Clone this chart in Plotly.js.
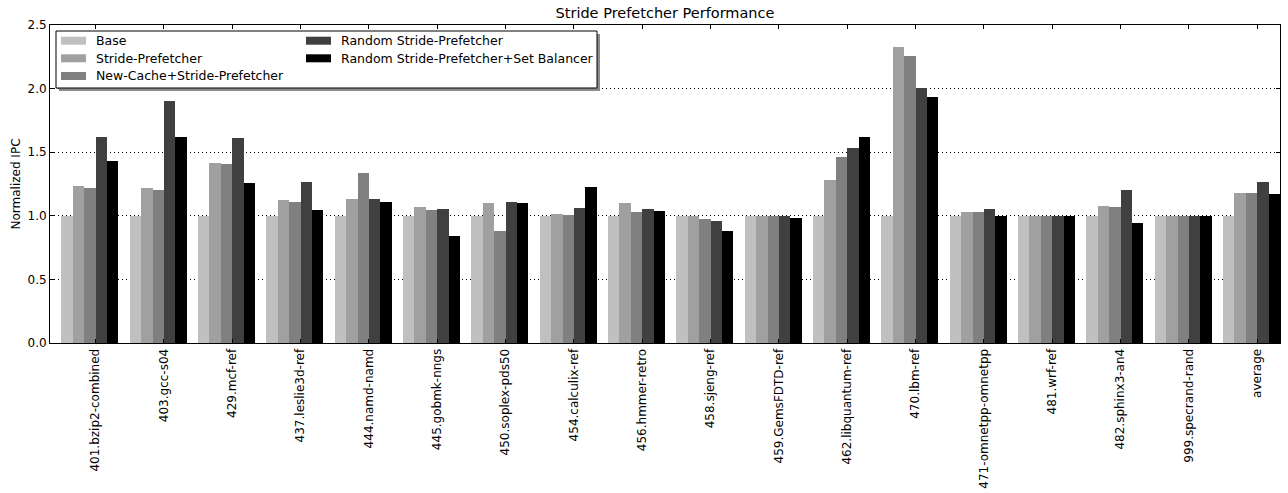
<!DOCTYPE html>
<html>
<head>
<meta charset="utf-8">
<script src="https://cdn.plot.ly/plotly-3.0.1.min.js"></script>
<style>html,body{margin:0;padding:0;background:#fff;}#chart{width:1288px;height:493px;}</style>
</head>
<body>
<div id="chart"></div>
<script>
const categories = ["401.bzip2-combined","403.gcc-s04","429.mcf-ref","437.leslie3d-ref","444.namd-namd","445.gobmk-nngs","450.soplex-pds50","454.calculix-ref","456.hmmer-retro","458.sjeng-ref","459.GemsFDTD-ref","462.libquantum-ref","470.lbm-ref","471-omnetpp-omnetpp","481.wrf-ref","482.sphinx3-an4","999.specrand-rand","average"];
const seriesNames = ["Base","Stride-Prefetcher","New-Cache+Stride-Prefetcher","Random Stride-Prefetcher","Random Stride-Prefetcher+Set Balancer"];
const seriesColors = ["#c0c0c0","#a0a0a0","#808080","#404040","#000000"];
const base        = [1.00,1.00,1.00,1.00,1.00,1.00,1.00,1.00,1.00,1.00,1.00,1.00,1.00,1.00,1.00,1.00,1.00,1.00];
const stride      = [1.238,1.217,1.413,1.128,1.136,1.073,1.104,1.018,1.097,1.000,1.000,1.284,2.329,1.026,1.000,1.081,1.000,1.183];
const newCache    = [1.220,1.206,1.408,1.112,1.340,1.049,0.877,1.010,1.026,0.971,0.995,1.465,2.258,1.026,1.000,1.073,1.000,1.183];
const randomStr   = [1.620,1.900,1.615,1.269,1.136,1.057,1.112,1.065,1.057,0.963,1.000,1.536,2.007,1.057,1.000,1.199,1.000,1.269];
const randomSB    = [1.434,1.620,1.256,1.042,1.112,0.845,1.097,1.230,1.034,0.884,0.980,1.620,1.936,1.000,1.000,0.940,1.000,1.175];
const seriesValues = [base, stride, newCache, randomStr, randomSB];

const W = 1288, H = 493;
const M = {l: 50, r: 8, t: 25, b: 150};
const plotW = W - M.l - M.r, plotH = H - M.t - M.b;
const px = x => (x - M.l) / plotW;
const py = y => (H - M.b - y) / plotH;

const nS = seriesNames.length;
const barW = 1 / (nS + 1);
const traces = seriesValues.map((vals, k) => ({
  type: 'bar',
  name: seriesNames[k],
  x: categories.map((c, i) => i + barW * (k + 1) + barW / 2),
  y: vals,
  width: barW,
  marker: {color: seriesColors[k], line: {width: 0}},
  showlegend: false,
  hoverinfo: 'y'
}));

const font = {family: 'DejaVu Sans, sans-serif', size: 12, color: '#000'};
const legendFont = {family: 'DejaVu Sans, sans-serif', size: 12.5, color: '#000'};
const shapes = [];
const annotations = [];
// legend box with shadow
const box = {x0: 56, x1: 597, y0: 31, y1: 88};
shapes.push({type: 'rect', xref: 'paper', yref: 'paper', x0: px(box.x0 + 3), x1: px(box.x1 + 3), y0: py(box.y1 + 3), y1: py(box.y0 + 3), fillcolor: '#8c8c8c', line: {width: 0}, layer: 'above'});
shapes.push({type: 'rect', xref: 'paper', yref: 'paper', x0: px(box.x0), x1: px(box.x1), y0: py(box.y1), y1: py(box.y0), fillcolor: '#ffffff', line: {color: '#000', width: 1}, layer: 'above'});
const colX = [61, 306];
const rowY = [40.7, 58.3, 76];
seriesNames.forEach((name, k) => {
  const col = k < 3 ? 0 : 1;
  const row = k < 3 ? k : k - 3;
  const sx = colX[col], sy = rowY[row];
  shapes.push({type: 'rect', xref: 'paper', yref: 'paper', x0: px(sx), x1: px(sx + 25), y0: py(sy + 4), y1: py(sy - 4), fillcolor: seriesColors[k], line: {width: 0}, layer: 'above'});
  annotations.push({xref: 'paper', yref: 'paper', x: px(sx + 33), y: py(sy), xanchor: 'left', yanchor: 'middle', text: name, showarrow: false, font: legendFont});
});

const layout = {
  width: W, height: H,
  margin: M,
  paper_bgcolor: '#fff', plot_bgcolor: '#fff',
  font: font,
  barmode: 'overlay',
  bargap: 0,
  title: {text: 'Stride Prefetcher Performance', font: {family: 'DejaVu Sans, sans-serif', size: 14.5, color: '#000'}, x: 0.5, xref: 'paper', xanchor: 'center', y: 1 - 13 / H, yref: 'container', yanchor: 'middle'},
  xaxis: {
    range: [0, categories.length],
    tickmode: 'array',
    tickvals: categories.map((c, i) => i + 2 / 3),
    ticktext: categories,
    tickangle: -90,
    ticks: 'inside', ticklen: 4, tickcolor: '#000', tickwidth: 1,
    showline: true, linecolor: '#000', linewidth: 1, mirror: 'ticks',
    showgrid: false, zeroline: false,
    tickfont: font
  },
  yaxis: {
    range: [0, 2.5],
    tickvals: [0, 0.5, 1.0, 1.5, 2.0, 2.5],
    ticktext: ['0.0','0.5','1.0','1.5','2.0','2.5'],
    ticks: 'inside', ticklen: 4, tickcolor: '#000', tickwidth: 1,
    showline: true, linecolor: '#000', linewidth: 1, mirror: 'ticks',
    showgrid: true, gridcolor: '#000', gridwidth: 1, griddash: '1px,3px',
    zeroline: false,
    tickfont: font,
    title: {text: 'Normalized IPC', font: font, standoff: 4}
  },
  shapes: shapes,
  annotations: annotations
};

Plotly.newPlot('chart', traces, layout, {displayModeBar: false, staticPlot: true});
</script>
</body>
</html>
